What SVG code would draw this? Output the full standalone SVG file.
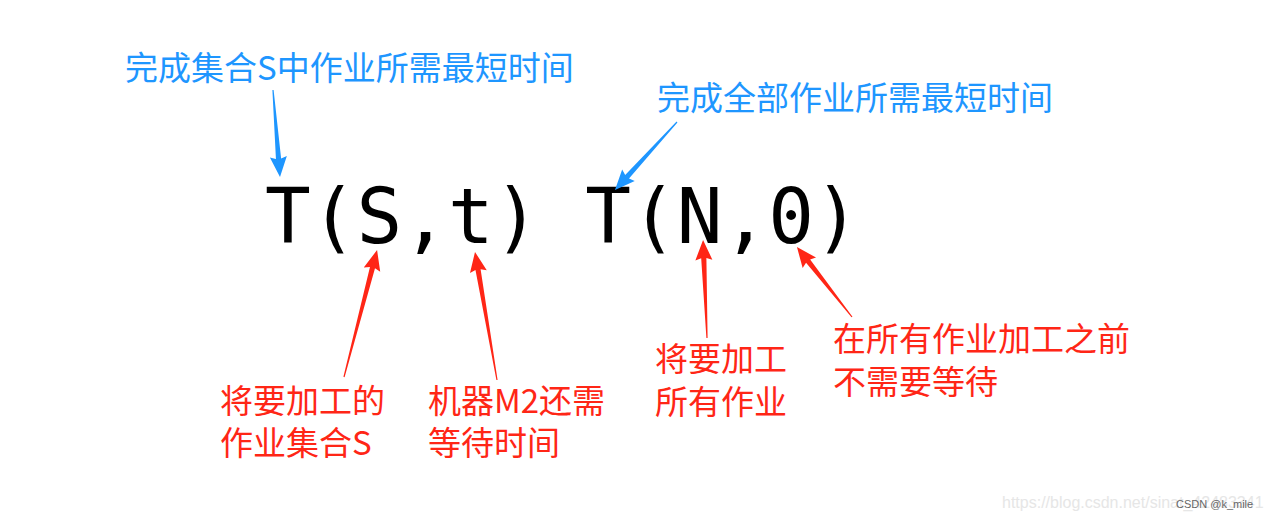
<svg xmlns="http://www.w3.org/2000/svg" width="1269" height="520" viewBox="0 0 1269 520">
<style>
.cjk{font-family:"Noto Sans CJK SC","Noto Sans",sans-serif;font-size:33px}
.blue{fill:#1e96ff}
.red{fill:#ff2616}
.mono{font-family:"DejaVu Sans Mono","Liberation Mono",monospace;font-size:76px;fill:#000}
.wm{font-family:"Liberation Sans",Arial,sans-serif}
</style>
<rect width="1269" height="520" fill="#fff"/>
<g id="formula"><text class="mono" x="265" y="243">T(S,t) T(N,0)</text></g>
<g id="label-s-time"><text class="cjk blue" x="125" y="80">完成集合S中作业所需最短时间</text></g>
<g id="label-all-time"><text class="cjk blue" x="657" y="110">完成全部作业所需最短时间</text></g>
<g id="label-set-s"><text class="cjk red" x="220" y="413">将要加工的</text><text class="cjk red" x="220" y="455">作业集合S</text></g>
<g id="label-wait"><text class="cjk red" x="428" y="413">机器M2还需</text><text class="cjk red" x="428" y="455">等待时间</text></g>
<g id="label-all-jobs"><text class="cjk red" x="655" y="371">将要加工</text><text class="cjk red" x="655" y="414">所有作业</text></g>
<g id="label-no-wait"><text class="cjk red" x="833" y="351">在所有作业加工之前</text><text class="cjk red" x="833" y="394">不需要等待</text></g>
<g id="connectors">
<path class="blue" transform="translate(273,90) rotate(85.4)" d="M0,-0.6 L69,-2.6 L67,-8.5 L87.3,0 L67,8.5 L69,2.6 L0,0.6Z"/>
<path class="blue" transform="translate(677,122) rotate(132.4)" d="M0,-0.6 L74,-2.6 L72,-8.5 L92,0 L72,8.5 L74,2.6 L0,0.6Z"/>
<path class="red" transform="translate(344,377) rotate(-75.4)" d="M0,-0.6 L113,-2.6 L111,-8.5 L131.2,0 L111,8.5 L113,2.6 L0,0.6Z"/>
<path class="red" transform="translate(497,380) rotate(-99.75)" d="M0,-0.6 L112,-2.6 L110,-8.5 L129.9,0 L110,8.5 L112,2.6 L0,0.6Z"/>
<path class="red" transform="translate(707,338) rotate(-92.3)" d="M0,-0.6 L80,-2.6 L78,-8.5 L98.1,0 L78,8.5 L80,2.6 L0,0.6Z"/>
<path class="red" transform="translate(852,317) rotate(-128.2)" d="M0,-0.6 L71,-2.6 L69,-8.5 L89,0 L69,8.5 L71,2.6 L0,0.6Z"/>
</g>
<g id="watermark">
<text class="wm" x="1002" y="508" font-size="16" fill="#e6e6e6">https://blog.csdn.net/sinat_42483341</text>
<text class="wm" x="1176" y="508" font-size="11" fill="#666">CSDN @k_mile</text>
</g>
</svg>
